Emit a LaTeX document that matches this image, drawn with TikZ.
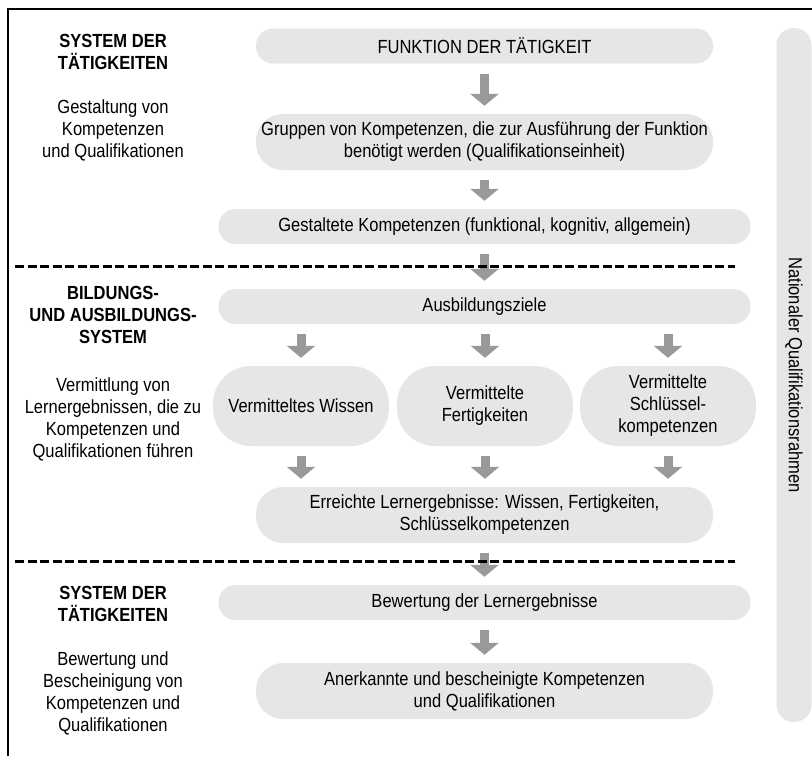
\documentclass[tikz,border=0pt]{standalone}
\usepackage{fontspec}
\setmainfont{Liberation Sans}[FakeStretch=0.87]
\usetikzlibrary{arrows.meta}
\definecolor{boxgray}{HTML}{E6E6E6}
\definecolor{arrowgray}{HTML}{999999}
\tikzset{stage/.style = {fill=boxgray, align=center, inner sep=0pt, minimum height=35pt, rounded corners=17pt}}
\tikzset{flow/.style = {draw=arrowgray, line width=9pt, -{Triangle[width=28pt, length=12pt]}, shorten <=10pt, shorten >=8pt}}
\tikzset{divider/.style = {line width=3pt, dash pattern=on 9pt off 3.5pt}}

\begin{document}
\begin{tikzpicture}[x=1pt, y=-1pt, font=\fontsize{19}{22}\selectfont]
    \useasboundingbox (0, 0) rectangle (812, 756);
    \draw [line width=1.6pt] (8, 756) |- (812, 9);

    % left column
    \node [align=center, font=\fontsize{19}{22}\selectfont\bfseries] (headA) at (113, 52) {SYSTEM DER\\TÄTIGKEITEN};
    \node [align=center] (descA) at (113, 130) {Gestaltung von\\Kompetenzen\\und Qualifikationen};
    \node [align=center, font=\fontsize{19}{22}\selectfont\bfseries] (headB) at (113, 315) {BILDUNGS-\\UND AUSBILDUNGS-\\SYSTEM};
    \node [align=center] (descB) at (113, 419) {Vermittlung von\\Lernergebnissen, die zu\\Kompetenzen und\\Qualifikationen führen};
    \node [align=center, font=\fontsize{19}{22}\selectfont\bfseries] (headC) at (113, 604) {SYSTEM DER\\TÄTIGKEITEN};
    \node [align=center] (descC) at (113, 693) {Bewertung und\\Bescheinigung von\\Kompetenzen und\\Qualifikationen};

    % main column
    \node [stage, minimum width=457pt] (funktion) at (484.5, 46) {FUNKTION DER TÄTIGKEIT};
    \node [stage, minimum width=457pt, minimum height=56pt, rounded corners=27pt] (gruppen) at (484.5, 142) {Gruppen von Kompetenzen, die zur Ausführung der Funktion\\benötigt werden (Qualifikationseinheit)};
    \node [stage, minimum width=532pt] (gestaltet) at (484.5, 226.5) {Gestaltete Kompetenzen (funktional, kognitiv, allgemein)};
    \node [stage, minimum width=532pt] (ziele) at (484.5, 306.5) {Ausbildungsziele};
    \node [stage, minimum width=176pt, minimum height=80pt, rounded corners=38pt] (wissen) at (301, 406) {Vermitteltes Wissen};
    \node [stage, minimum width=176pt, minimum height=80pt, rounded corners=38pt] (fertig) at (485, 406) {Vermittelte\\Fertigkeiten};
    \node [stage, minimum width=176pt, minimum height=80pt, rounded corners=38pt] (schluessel) at (668, 406) {Vermittelte\\Schlüssel-\\kompetenzen};
    \node [stage, minimum width=457pt, minimum height=56pt, rounded corners=27pt] (erreicht) at (484.5, 515) {Erreichte Lernergebnisse: Wissen, Fertigkeiten,\\Schlüsselkompetenzen};
    \node [stage, minimum width=532pt] (bewertung) at (484.5, 602.5) {Bewertung der Lernergebnisse};
    \node [stage, minimum width=457pt, minimum height=56pt, rounded corners=27pt] (anerkannt) at (484.5, 691) {Anerkannte und bescheinigte Kompetenzen\\und Qualifikationen};

    % right bar
    \node [stage, minimum width=694pt, minimum height=35pt, rotate=-90] (rahmen) at (794, 375) {Nationaler Qualifikationsrahmen};

    % arrows
    \draw [flow] (funktion) -- (gruppen);
    \draw [flow] (gruppen) -- (gestaltet);
    \draw [flow] (gestaltet) -- (ziele);
    \draw [flow] (ziele.south -| wissen.north) -- (wissen);
    \draw [flow] (ziele.south -| fertig.north) -- (fertig);
    \draw [flow] (ziele.south -| schluessel.north) -- (schluessel);
    \draw [flow] (wissen) -- (erreicht.north -| wissen.south);
    \draw [flow] (fertig) -- (erreicht.north -| fertig.south);
    \draw [flow] (schluessel) -- (erreicht.north -| schluessel.south);
    \draw [flow] (erreicht) -- (bewertung);
    \draw [flow] (bewertung) -- (anerkannt);

    % dividers
    \draw [divider] (15, 266) -- (735, 266);
    \draw [divider] (15, 561) -- (735, 561);
\end{tikzpicture}
\end{document}
